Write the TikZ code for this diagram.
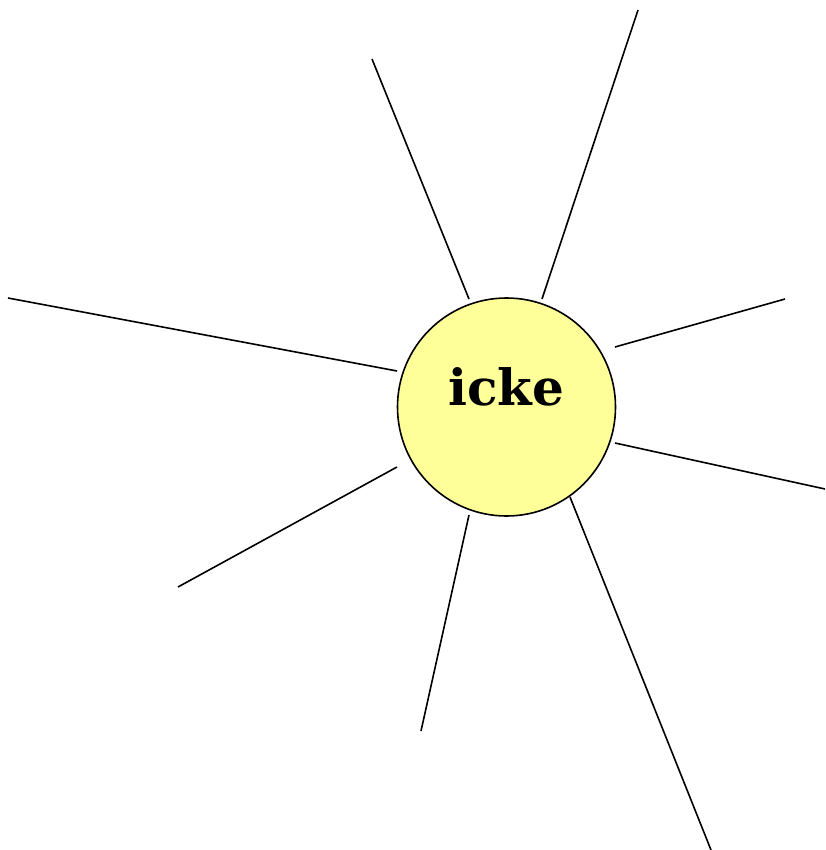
\documentclass[tikz,border=0pt]{standalone}
\usepackage{fontspec}
\newfontfamily\labelfont{DejaVu Serif}
\begin{document}
\begin{tikzpicture}[x=1pt,y=-1pt,
  ray/.style={line width=1.6pt,black},
  hub/.style={circle,draw=black,line width=1.6pt,fill={rgb,255:red,255;green,255;blue,153},minimum size=218pt,inner sep=0pt}]
\useasboundingbox (0,0) rectangle (825,850);
\node[hub] (c) at (506.5,407) {};
\node[anchor=base,inner sep=0pt] (t) at (506,405) {\labelfont\bfseries\fontsize{50}{60}\selectfont icke};
\coordinate (s1) at (469,299); \coordinate (e1) at (372,59);
\coordinate (s2) at (542,299); \coordinate (e2) at (638,10);
\coordinate (s3) at (615,347); \coordinate (e3) at (785,299);
\coordinate (s4) at (615,443); \coordinate (e4) at (825,489);
\coordinate (s5) at (570,497); \coordinate (e5) at (711,850);
\coordinate (s6) at (469,515); \coordinate (e6) at (421,731);
\coordinate (s7) at (397,467); \coordinate (e7) at (178,587);
\coordinate (s8) at (397,371); \coordinate (e8) at (8,298);
\foreach \i in {1,...,8} {\draw[ray] (s\i) -- (e\i);}
\end{tikzpicture}
\end{document}
